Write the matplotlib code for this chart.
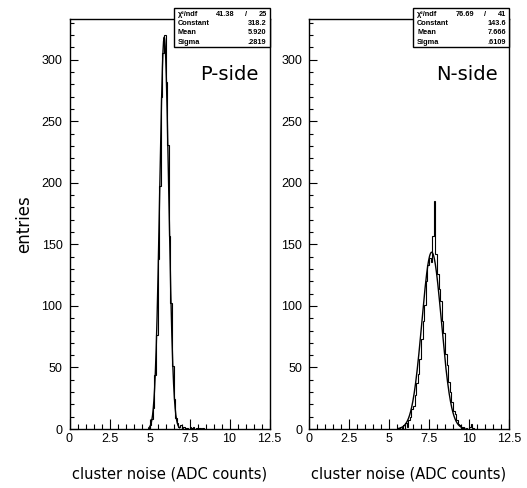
import numpy as np
import matplotlib
matplotlib.use("Agg")
import matplotlib.pyplot as plt
from matplotlib.patches import Rectangle
from matplotlib.ticker import MultipleLocator

# histogram contents, 0.1 wide bins starting at *_start
p_start = 4.9
p_counts = [1, 3, 8, 17, 44, 76, 138, 197, 270, 305,
            320, 282, 231, 157, 102, 51, 24, 9, 5, 2,
            3, 1, 2, 0, 1, 0, 2, 1, 2, 0,
            1, 0, 1, 0, 1]

n_start = 5.6
n_counts = [1, 2, 0, 3, 5, 2, 7, 10, 16, 19,
            28, 37, 45, 57, 73, 88, 101, 120, 133, 139,
            136, 157, 185, 142, 126, 114, 104, 88, 78, 61,
            52, 38, 30, 22, 15, 12, 7, 4, 3, 1,
            2, 0, 1, 0, 2, 4, 1]

# gaussian fit results
p_fit = {"chi2": "41.38", "ndf": "25", "Constant": "318.2", "Mean": "5.920", "Sigma": ".2819"}
n_fit = {"chi2": "76.69", "ndf": "41", "Constant": "143.6", "Mean": "7.666", "Sigma": ".6109"}

side_labels = ["P-side", "N-side"]
xtick_vals = [0, 2.5, 5, 7.5, 10, 12.5]
xtick_labels = ["0", "2.5", "5", "7.5", "10", "12.5"]
ytick_vals = [0, 50, 100, 150, 200, 250, 300]

W, H = 527, 488
BW = 0.1


def fx(px):
    return px / W


def fy(py):
    return 1 - py / H


def gaus(x, fit):
    c = float(fit["Constant"])
    m = float(fit["Mean"])
    s = float(fit["Sigma"])
    return c * np.exp(-0.5 * ((x - m) / s) ** 2)


fig = plt.figure(figsize=(W / 100, H / 100), dpi=100)
tickfont = {"family": "Liberation Sans", "size": 9}

panels = [(69.5, p_start, p_counts, p_fit), (309.0, n_start, n_counts, n_fit)]

for i, (left, start, counts, fit) in enumerate(panels):
    ax = fig.add_axes([fx(left), fy(429), 200 / W, 410 / H])
    edges = start + BW * np.arange(len(counts) + 1)
    ax.stairs(counts, edges, color="black", lw=0.8, baseline=0)

    m = float(fit["Mean"])
    s = float(fit["Sigma"])
    xs = np.linspace(m - 3.4 * s, m + 3.4 * s, 300)
    ax.plot(xs, gaus(xs, fit), color="black", lw=1.0)

    ax.set_xlim(0, 12.5)
    ax.set_ylim(0, 333)
    ax.set_xticks(xtick_vals)
    ax.set_xticklabels(xtick_labels, fontdict=tickfont)
    ax.set_yticks(ytick_vals)
    ax.set_yticklabels([str(v) for v in ytick_vals], fontdict=tickfont)
    ax.xaxis.set_minor_locator(MultipleLocator(0.5))
    ax.yaxis.set_minor_locator(MultipleLocator(10))
    ax.tick_params(which="both", direction="in", top=False, right=False, width=0.8)
    ax.tick_params(axis="x", which="major", length=7.2, pad=3)
    ax.tick_params(axis="x", which="minor", length=3.6)
    ax.tick_params(axis="y", which="major", length=5.8, pad=5)
    ax.tick_params(axis="y", which="minor", length=2.9)
    for sp in ax.spines.values():
        sp.set_linewidth(1.0)

    right = left + 200
    fig.text(fx(left + 100), fy(474), "cluster noise (ADC counts)",
             ha="center", va="center", fontsize=10.5, family="DejaVu Sans")
    fig.text(fx(right - 11), fy(75), side_labels[i],
             ha="right", va="center", fontsize=14, family="DejaVu Sans")

    # stats box
    bl = right - 96
    fig.add_artist(Rectangle((fx(bl), fy(47)), 96 / W, 39 / H,
                             transform=fig.transFigure, fc="white", ec="black", lw=1.0))
    sfont = dict(fontsize=5.3, family="Liberation Sans", weight="bold", va="center")
    rows = [("χ²/ndf", None), ("Constant", fit["Constant"]),
            ("Mean", fit["Mean"]), ("Sigma", fit["Sigma"])]
    for j, (name, val) in enumerate(rows):
        yy = 14 + j * 9.5
        fig.text(fx(bl + 4), fy(yy), name, ha="left", **sfont)
        if val is None:
            fig.text(fx(bl + 61), fy(yy), fit["chi2"], ha="right", **sfont)
            fig.text(fx(bl + 72), fy(yy), "/", ha="center", **sfont)
            fig.text(fx(right - 3), fy(yy), fit["ndf"], ha="right", **sfont)
        else:
            fig.text(fx(right - 3), fy(yy), val, ha="right", **sfont)

fig.text(fx(24), fy(224), "entries", rotation=90, ha="center", va="center",
         fontsize=12, family="DejaVu Sans")

fig.savefig("out.png", dpi=100)
